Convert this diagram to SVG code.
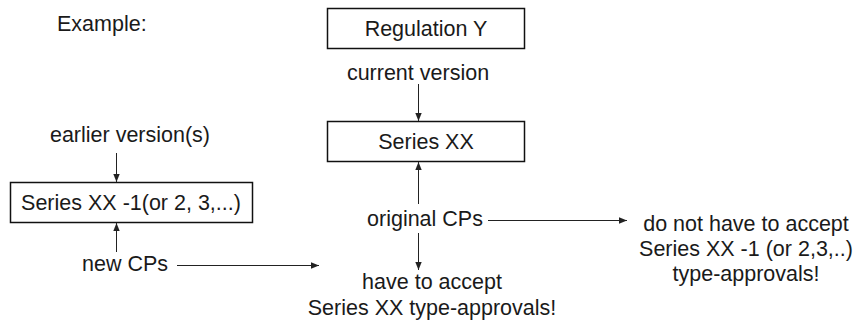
<svg xmlns="http://www.w3.org/2000/svg" width="859" height="329" viewBox="0 0 859 329">
<style>
  text { font-family: "Liberation Sans", Arial, sans-serif; font-size: 21.5px; fill: #1a1a1a; }
  .c { text-anchor: middle; }
  .box { fill: #ffffff; stroke: #111111; stroke-width: 1.5; }
  .ln { stroke: #222222; stroke-width: 1; fill: none; marker-end: url(#ah); }
</style>
<defs>
  <marker id="ah" viewBox="0 0 10 10" refX="10" refY="5" markerWidth="8" markerHeight="8" markerUnits="userSpaceOnUse" orient="auto">
    <path d="M0,1 L10,5 L0,9 Z" fill="#222222"/>
  </marker>
</defs>
<rect width="859" height="329" fill="#ffffff"/>
<g id="label-example"><text x="57" y="31">Example:</text></g>
<g id="node-regulation">
  <rect class="box" x="327.5" y="8.5" width="197" height="40"/>
  <text class="c" x="426" y="36">Regulation Y</text>
</g>
<g id="label-current"><text class="c" x="418" y="80">current version</text></g>
<g id="node-series">
  <rect class="box" x="327.5" y="121.5" width="197" height="40"/>
  <text class="c" x="426" y="149">Series XX</text>
</g>
<g id="label-earlier"><text class="c" x="130" y="142">earlier version(s)</text></g>
<g id="node-series-old">
  <rect class="box" x="10.5" y="182.5" width="242" height="40"/>
  <text class="c" x="131" y="210">Series XX -1(or 2, 3,...)</text>
</g>
<g id="label-original"><text class="c" x="425" y="226">original CPs</text></g>
<g id="label-new"><text x="82" y="271">new CPs</text></g>
<g id="label-have">
  <text class="c" x="432" y="289">have to accept</text>
  <text class="c" x="432" y="315">Series XX type-approvals!</text>
</g>
<g id="label-donot">
  <text class="c" x="746" y="231">do not have to accept</text>
  <text class="c" x="746" y="256">Series XX -1 (or 2,3,..)</text>
  <text class="c" x="746" y="281">type-approvals!</text>
</g>
<g id="connectors">
  <line class="ln" x1="418.5" y1="84" x2="418.5" y2="121"/>
  <line class="ln" x1="116.5" y1="153" x2="116.5" y2="182"/>
  <line class="ln" x1="116.5" y1="252" x2="116.5" y2="223"/>
  <line class="ln" x1="418.5" y1="204" x2="418.5" y2="162"/>
  <line class="ln" x1="418.5" y1="233" x2="418.5" y2="270"/>
  <line class="ln" x1="488" y1="220.5" x2="627" y2="220.5"/>
  <line class="ln" x1="177" y1="265.5" x2="319" y2="265.5"/>
</g>
</svg>
